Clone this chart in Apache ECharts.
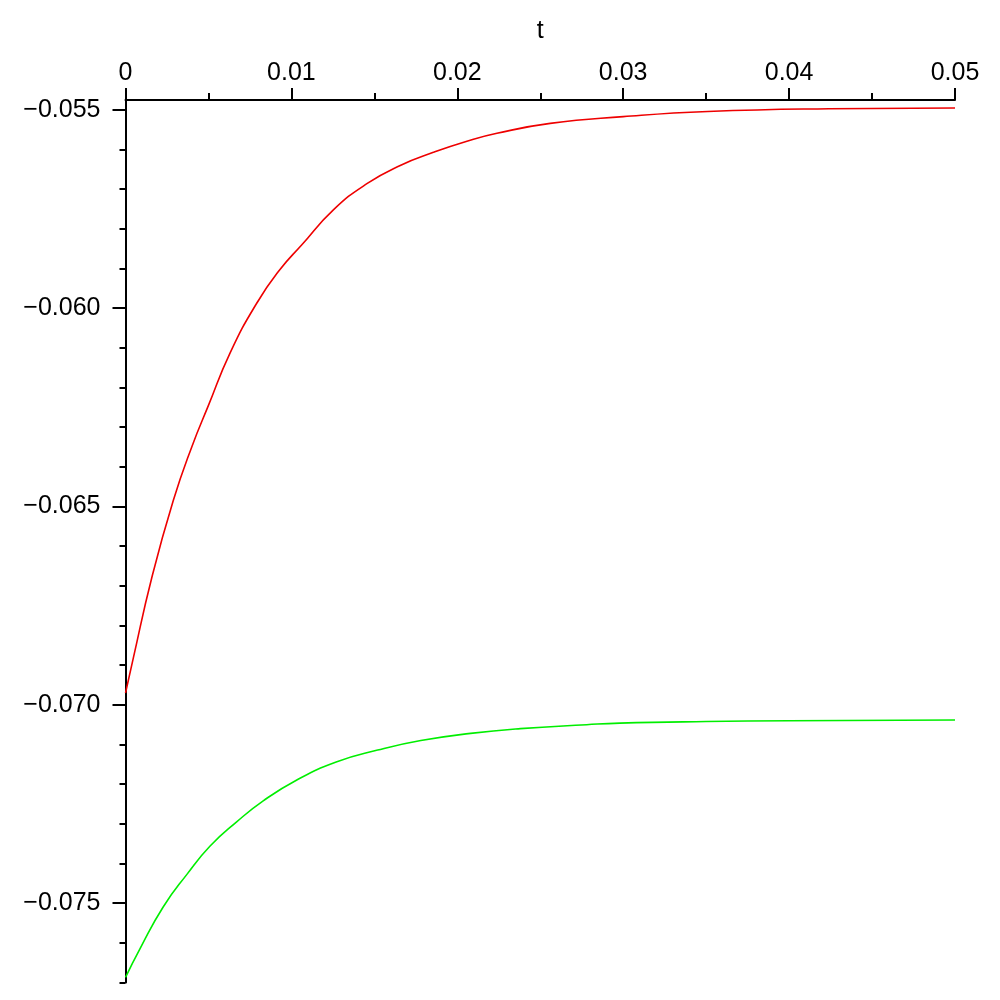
<!DOCTYPE html>
<html>
<head>
<meta charset="utf-8">
<script src="https://cdn.jsdelivr.net/npm/echarts@6/dist/echarts.min.js"></script>
<style>
  html, body { margin: 0; padding: 0; background: #fff; }
  #main { width: 1000px; height: 1000px; }
</style>
</head>
<body>
<div id="main"></div>
<script>
// values
var redT = [0, 0.00047, 0.00158, 0.00288, 0.0040, 0.0050, 0.0063, 0.0079, 0.0093, 0.01063, 0.01253,
            0.01455, 0.01656, 0.01856, 0.02058, 0.02239, 0.0256, 0.030, 0.0351, 0.0424, 0.05];
var redV = [-0.0697, -0.06882, -0.0668, -0.06485, -0.06349, -0.06245, -0.06113, -0.05988, -0.05903, -0.0584, -0.05752,
            -0.05686, -0.0564, -0.05607, -0.05579, -0.05559, -0.05534, -0.05517, -0.05504, -0.05497, -0.05495];

var greenT = [0, 0.00087, 0.00228, 0.00369, 0.0051, 0.0067, 0.0083, 0.0103, 0.0127,
              0.0152, 0.0178, 0.0208, 0.0238, 0.0278, 0.0298, 0.035, 0.04, 0.05];
var greenV = [-0.07687, -0.07615, -0.07509, -0.07428, -0.07356, -0.07295, -0.07242, -0.0719, -0.07144,
              -0.07114, -0.0709, -0.07072, -0.0706, -0.0705, -0.07046, -0.07042, -0.0704, -0.07038];

var yLabels = [-0.075, -0.070, -0.065, -0.060, -0.055];
var yMinor = [-0.077, -0.076, -0.075, -0.074, -0.073, -0.072, -0.071, -0.070, -0.069, -0.068, -0.067,
              -0.066, -0.065, -0.064, -0.063, -0.062, -0.061, -0.060, -0.059, -0.058, -0.057, -0.056, -0.055];

var yMin = -0.077, yMax = -0.05475;

function pairs(xs, ys) {
    var out = [];
    for (var i = 0; i < xs.length; i++) out.push([xs[i], ys[i]]);
    return out;
}

var font = '"Liberation Sans", Arial, sans-serif';
var chart = echarts.init(document.getElementById('main'));

var gridBox = { left: 125.5, right: 45, top: 100, bottom: 17.5 };

var option = {
    backgroundColor: '#fff',
    animation: false,
    grid: [
        Object.assign({ containLabel: false }, gridBox),
        Object.assign({ containLabel: false }, gridBox)
    ],
    xAxis: [{
        type: 'value',
        gridIndex: 0,
        position: 'top',
        min: 0,
        max: 0.05,
        interval: 0.01,
        name: 't',
        nameLocation: 'middle',
        nameGap: 56,
        nameTextStyle: { color: '#000', fontFamily: font, fontSize: 25 },
        axisLine: { lineStyle: { color: '#000', width: 2 } },
        axisTick: { show: true, length: 12, lineStyle: { color: '#000', width: 2 } },
        minorTick: { show: true, splitNumber: 2, length: 7, lineStyle: { color: '#000', width: 2 } },
        axisLabel: {
            color: '#000', fontFamily: font, fontSize: 25, margin: 14,
            formatter: function (v) { return v === 0 ? '0' : v.toFixed(2); }
        },
        splitLine: { show: false }
    }, {
        type: 'value',
        gridIndex: 1,
        show: false,
        min: 0,
        max: 0.05
    }],
    yAxis: [{
        type: 'value',
        gridIndex: 0,
        position: 'left',
        min: yMin,
        max: yMax,
        axisLine: { show: true, onZero: false, lineStyle: { color: '#000', width: 2 } },
        axisTick: { show: true, length: 13, customValues: yLabels, lineStyle: { color: '#000', width: 2 } },
        axisLabel: {
            color: '#000', fontFamily: font, fontSize: 25, margin: 25,
            customValues: yLabels,
            formatter: function (v) { return '\u2212' + Math.abs(v).toFixed(3); }
        },
        splitLine: { show: false }
    }, {
        type: 'value',
        gridIndex: 1,
        position: 'left',
        min: yMin,
        max: yMax,
        axisLine: { show: false },
        axisTick: { show: true, length: 6, customValues: yMinor, lineStyle: { color: '#000', width: 2 } },
        axisLabel: { show: false },
        splitLine: { show: false }
    }],
    series: [{
        type: 'line',
        xAxisIndex: 0,
        yAxisIndex: 0,
        data: pairs(redT, redV),
        showSymbol: false,
        smooth: 0.5,
        lineStyle: { color: '#ee0000', width: 1.6 },
        z: 3
    }, {
        type: 'line',
        xAxisIndex: 0,
        yAxisIndex: 0,
        data: pairs(greenT, greenV),
        showSymbol: false,
        smooth: 0.5,
        lineStyle: { color: '#00ee00', width: 1.6 },
        z: 3
    }]
};

chart.setOption(option);
</script>
</body>
</html>
